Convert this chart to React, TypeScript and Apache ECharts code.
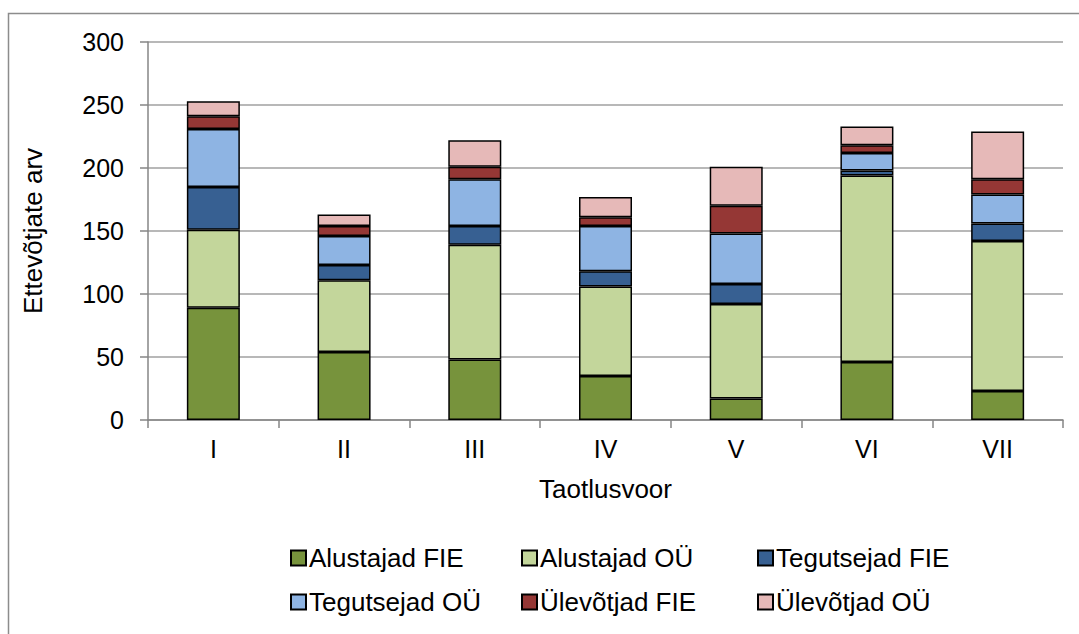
import React, { useEffect, useRef } from "react";
import * as echarts from "echarts";

const categories = ["I", "II", "III", "IV", "V", "VI", "VII"];
const alustajadFIE = [89, 54, 48, 35, 17, 46, 23];
const alustajadOU = [62, 57, 91, 71, 75, 148, 119];
const tegutsejadFIE = [34, 12, 15, 12, 16, 4, 14];
const tegutsejadOU = [46, 23, 37, 36, 40, 14, 23];
const ulevotjadFIE = [10, 8, 10, 7, 22, 6, 12];
const ulevotjadOU = [12, 9, 21, 16, 31, 15, 38];
const yTicks = [0, 50, 100, 150, 200, 250, 300];

const seriesDefs = [
  { name: "Alustajad FIE", data: alustajadFIE, color: "#77933C" },
  { name: "Alustajad OÜ", data: alustajadOU, color: "#C3D69B" },
  { name: "Tegutsejad FIE", data: tegutsejadFIE, color: "#376092" },
  { name: "Tegutsejad OÜ", data: tegutsejadOU, color: "#8EB4E3" },
  { name: "Ülevõtjad FIE", data: ulevotjadFIE, color: "#953735" },
  { name: "Ülevõtjad OÜ", data: ulevotjadOU, color: "#E6B9B8" },
];

const legendPos = [
  { left: 285, top: 540 },
  { left: 516, top: 540 },
  { left: 752, top: 540 },
  { left: 285, top: 584 },
  { left: 516, top: 584 },
  { left: 752, top: 584 },
];

export default function App() {
  const ref = useRef<HTMLDivElement>(null);
  useEffect(() => {
    if (!ref.current) return;
    const chart = echarts.init(ref.current, undefined, { renderer: "svg" });
    const font = "Liberation Sans, Arial, sans-serif";
    chart.setOption({
      animation: false,
      backgroundColor: "#ffffff",
      textStyle: { fontFamily: font },
      graphic: [
        {
          type: "rect",
          shape: { x: 8.5, y: 13.5, width: 1090, height: 640 },
          style: { fill: "none", stroke: "#8c8c8c", lineWidth: 1.5 },
          silent: true,
        },
      ],
      legend: seriesDefs.map((s, i) => ({
        data: [s.name],
        left: legendPos[i].left,
        top: legendPos[i].top,
        itemWidth: 15,
        itemHeight: 15,
        itemGap: 4,
        icon: "rect",
        textStyle: { fontSize: 26, color: "#000", fontFamily: font, padding: [0, 0, 0, -2] },
        selectedMode: false,
      })),
      grid: { left: 148, right: 16, top: 42, bottom: 214 },
      xAxis: {
        type: "category",
        data: categories,
        name: "Taotlusvoor",
        nameLocation: "middle",
        nameGap: 56,
        nameTextStyle: { fontSize: 26, color: "#000", fontFamily: font },
        axisLine: { lineStyle: { color: "#868686", width: 1.5 } },
        axisTick: { show: true, alignWithLabel: false, length: 8, lineStyle: { color: "#868686", width: 1.5 } },
        axisLabel: { fontSize: 25, color: "#000", margin: 16, fontFamily: font },
      },
      yAxis: {
        type: "value",
        min: 0,
        max: 300,
        interval: 50,
        name: "Ettevõtjate arv",
        nameLocation: "middle",
        nameGap: 102,
        nameTextStyle: { fontSize: 26, color: "#000", fontFamily: font },
        axisLine: { show: true, lineStyle: { color: "#868686", width: 1.5 } },
        axisTick: { show: true, length: 8, lineStyle: { color: "#868686", width: 1.5 } },
        axisLabel: {
          fontSize: 25,
          color: "#000",
          margin: 24,
          fontFamily: font,
          formatter: (v: number) => (yTicks.includes(v) ? String(v) : ""),
        },
        splitLine: { lineStyle: { color: "#a0a0a0", width: 1.5 } },
      },
      series: seriesDefs.map((s) => ({
        name: s.name,
        type: "bar",
        stack: "total",
        data: s.data,
        barWidth: 53,
        itemStyle: { color: s.color, borderColor: "#000", borderWidth: 1.5 },
      })),
    });
    return () => chart.dispose();
  }, []);
  return <div ref={ref} style={{ width: 1079, height: 634, position: "absolute", left: 0, top: 0 }} />;
}
